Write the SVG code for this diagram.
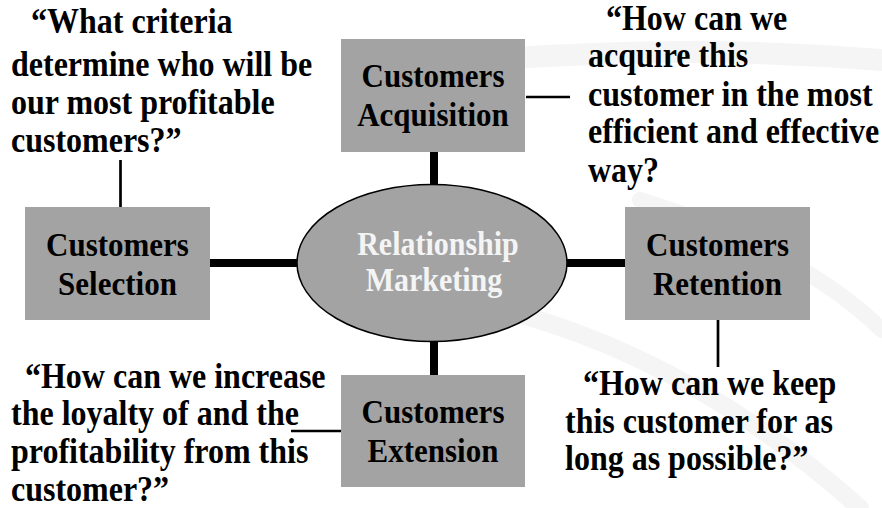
<svg xmlns="http://www.w3.org/2000/svg" width="882" height="508" viewBox="0 0 882 508">
<style>
.bg{fill:none;stroke:#f5f5f5;stroke-linecap:round}
.box{fill:#a3a3a3}
.ell{fill:#a3a3a3;stroke:#000;stroke-width:1.5}
.thick{stroke:#000;stroke-width:8}
.thin{stroke:#000;stroke-width:2.7}
text{font-family:"Liberation Serif","Times New Roman",serif;font-weight:bold}
.lbl{font-size:31px;fill:#000;text-anchor:middle}
.call{font-size:32px;fill:#000}
.ctr{font-size:30px;fill:#f4f4f4;text-anchor:middle}
</style>
<g id="background">
<path class="bg" stroke-width="22" d="M390 70 Q640 40 882 60"/>
<path class="bg" stroke-width="18" d="M400 290 Q650 320 860 508"/>
<path class="bg" stroke-width="16" d="M640 200 Q800 250 882 330"/>
</g>
<g id="connectors">
<line class="thick" x1="434" y1="150" x2="434" y2="190"/>
<line class="thick" x1="434" y1="336" x2="434" y2="377"/>
<line class="thick" x1="208" y1="263" x2="302" y2="263"/>
<line class="thick" x1="562" y1="263" x2="627" y2="263"/>
<line class="thin" x1="120.5" y1="160" x2="120.5" y2="208"/>
<line class="thin" x1="526" y1="97" x2="570" y2="97"/>
<line class="thin" x1="718" y1="319" x2="718" y2="367"/>
<line class="thin" x1="291" y1="431" x2="342" y2="431"/>
</g>
<g id="center">
<ellipse class="ell" cx="432" cy="263" rx="135" ry="78.5"/>
<text class="ctr" transform="matrix(1 0 0 1.1 0 255)" x="438" y="0">Relationship</text>
<text class="ctr" transform="matrix(1 0 0 1.1 0 291)" x="434" y="0">Marketing</text>
</g>
<g id="acquisition">
<rect class="box" x="341" y="39" width="184" height="113"/>
<text class="lbl" transform="matrix(1 0 0 1.1 0 87)" x="433" y="0">Customers</text>
<text class="lbl" transform="matrix(1 0 0 1.1 0 126)" x="433" y="0">Acquisition</text>
</g>
<g id="selection">
<rect class="box" x="25" y="207" width="185" height="113"/>
<text class="lbl" transform="matrix(1 0 0 1.1 0 256)" x="117.5" y="0">Customers</text>
<text class="lbl" transform="matrix(1 0 0 1.1 0 295)" x="117.5" y="0">Selection</text>
</g>
<g id="retention">
<rect class="box" x="625" y="207" width="185" height="113"/>
<text class="lbl" transform="matrix(1 0 0 1.1 0 256)" x="717.5" y="0">Customers</text>
<text class="lbl" transform="matrix(1 0 0 1.1 0 295)" x="717.5" y="0">Retention</text>
</g>
<g id="extension">
<rect class="box" x="341" y="375" width="184" height="112"/>
<text class="lbl" transform="matrix(1 0 0 1.1 0 423)" x="433" y="0">Customers</text>
<text class="lbl" transform="matrix(1 0 0 1.1 0 462)" x="433" y="0">Extension</text>
</g>
<g id="q-selection">
<text class="call" transform="matrix(1 0 0 1.1 0 33)" x="31" y="0">“What criteria</text>
<text class="call" transform="matrix(1 0 0 1.1 0 76)" x="11" y="0">determine who will be</text>
<text class="call" transform="matrix(1 0 0 1.1 0 114)" x="11" y="0">our most profitable</text>
<text class="call" transform="matrix(1 0 0 1.1 0 152)" x="11" y="0">customers?”</text>
</g>
<g id="q-acquisition">
<text class="call" transform="matrix(1 0 0 1.1 0 30)" x="606" y="0">“How can we</text>
<text class="call" transform="matrix(1 0 0 1.1 0 67)" x="588" y="0">acquire this</text>
<text class="call" transform="matrix(1 0 0 1.1 0 106)" x="588" y="0">customer in the most</text>
<text class="call" transform="matrix(1 0 0 1.1 0 143)" x="588" y="0">efficient and effective</text>
<text class="call" transform="matrix(1 0 0 1.1 0 182)" x="588" y="0">way?</text>
</g>
<g id="q-extension">
<text class="call" transform="matrix(1 0 0 1.1 0 388)" x="25" y="0">“How can we increase</text>
<text class="call" transform="matrix(1 0 0 1.1 0 425)" x="11" y="0">the loyalty of and the</text>
<text class="call" transform="matrix(1 0 0 1.1 0 463)" x="11" y="0">profitability from this</text>
<text class="call" transform="matrix(1 0 0 1.1 0 501)" x="11" y="0">customer?”</text>
</g>
<g id="q-retention">
<text class="call" transform="matrix(1 0 0 1.1 0 395)" x="583" y="0">“How can we keep</text>
<text class="call" transform="matrix(1 0 0 1.1 0 433)" x="565" y="0">this customer for as</text>
<text class="call" transform="matrix(1 0 0 1.1 0 470)" x="565" y="0">long as possible?”</text>
</g>
</svg>
